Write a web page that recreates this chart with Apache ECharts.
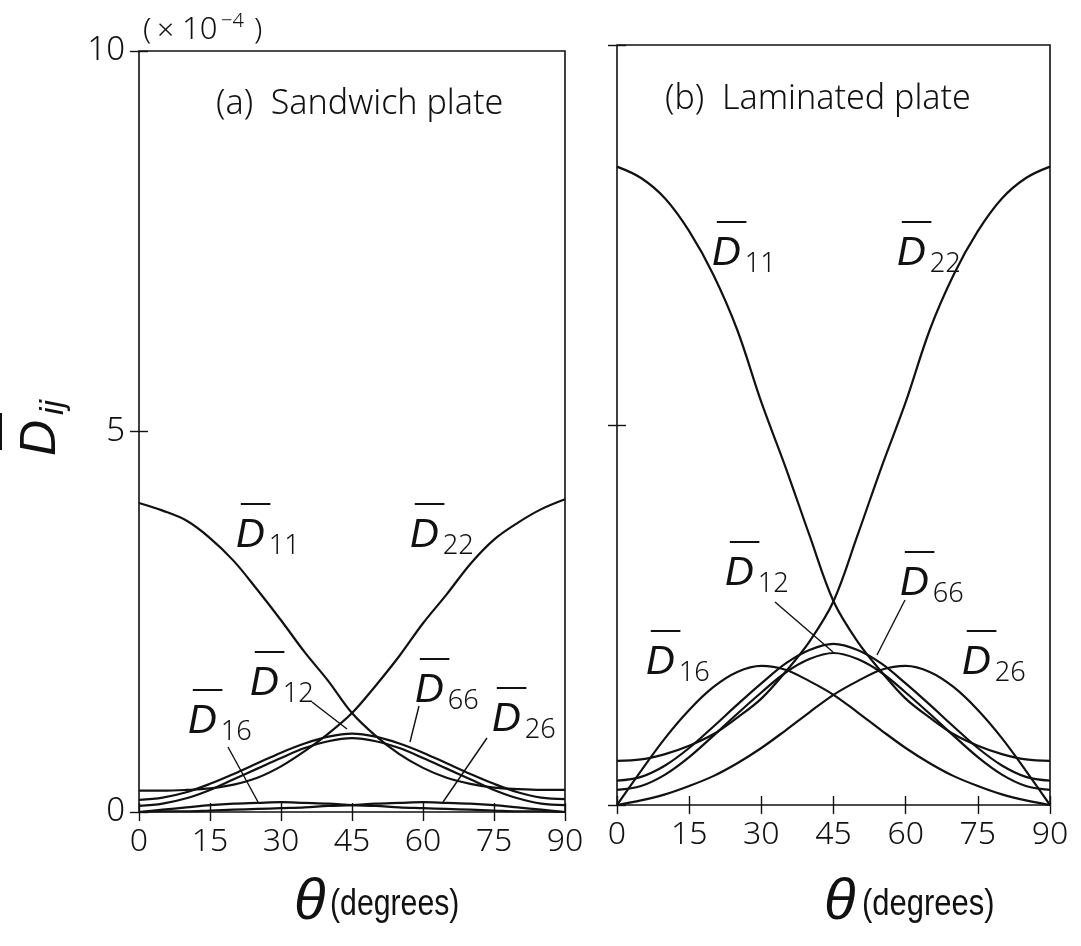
<!DOCTYPE html>
<html>
<head>
<meta charset="utf-8">
<script src="https://cdn.jsdelivr.net/npm/echarts@6/dist/echarts.min.js"></script>
<style>
  html, body { margin: 0; padding: 0; background: #fff; }
  #chart { width: 1081px; height: 946px; }
</style>
</head>
<body>
<div id="chart"></div>
<script>
// Fibre angle (degrees)
const theta = [0, 5, 10, 15, 20, 25, 30, 35, 40, 45, 50, 55, 60, 65, 70, 75, 80, 85, 90];

// Axis ticks
const thetaTicks = [0, 15, 30, 45, 60, 75, 90];
const dTicks = [0, 5, 10];

// (a) Sandwich plate, bending stiffness (x10^-4)
const sandD11 = [4.06, 3.96, 3.83, 3.60, 3.30, 2.92, 2.52, 2.10, 1.72, 1.30, 1.00, 0.76, 0.58, 0.45, 0.37, 0.32, 0.30, 0.29, 0.29];
const sandD22 = [0.28, 0.28, 0.29, 0.31, 0.36, 0.45, 0.60, 0.80, 1.03, 1.30, 1.66, 2.05, 2.48, 2.86, 3.26, 3.58, 3.80, 3.98, 4.11];
const sandD12 = [0.16, 0.19, 0.26, 0.37, 0.50, 0.64, 0.78, 0.90, 0.99, 1.03, 0.99, 0.90, 0.78, 0.64, 0.50, 0.37, 0.26, 0.19, 0.17];
const sandD66 = [0.08, 0.11, 0.18, 0.29, 0.43, 0.57, 0.71, 0.84, 0.93, 0.97, 0.93, 0.84, 0.71, 0.57, 0.43, 0.29, 0.18, 0.11, 0.09];
const sandD16 = [0.00, 0.03, 0.06, 0.09, 0.11, 0.12, 0.13, 0.12, 0.11, 0.09, 0.08, 0.06, 0.05, 0.04, 0.03, 0.02, 0.01, 0.01, 0.00];
const sandD26 = [0.00, 0.01, 0.01, 0.02, 0.03, 0.04, 0.05, 0.06, 0.08, 0.09, 0.11, 0.12, 0.13, 0.12, 0.11, 0.09, 0.06, 0.03, 0.00];

// (b) Laminated plate, bending stiffness (x10^-4)
const lamD11 = [8.40, 8.25, 7.98, 7.55, 6.98, 6.25, 5.30, 4.45, 3.55, 2.68, 2.15, 1.75, 1.40, 1.15, 0.93, 0.78, 0.67, 0.60, 0.58];
const lamD22 = [0.58, 0.60, 0.67, 0.78, 0.93, 1.15, 1.40, 1.75, 2.15, 2.68, 3.55, 4.45, 5.30, 6.25, 6.98, 7.55, 7.98, 8.25, 8.40];
const lamD12 = [0.32, 0.37, 0.52, 0.75, 1.03, 1.32, 1.60, 1.86, 2.04, 2.12, 2.04, 1.86, 1.60, 1.32, 1.03, 0.75, 0.52, 0.37, 0.32];
const lamD66 = [0.20, 0.25, 0.40, 0.63, 0.91, 1.20, 1.48, 1.74, 1.92, 2.00, 1.92, 1.74, 1.48, 1.20, 0.91, 0.63, 0.40, 0.25, 0.20];
const lamD16 = [0.00, 0.45, 0.88, 1.25, 1.55, 1.75, 1.83, 1.78, 1.63, 1.45, 1.22, 0.98, 0.75, 0.55, 0.38, 0.25, 0.14, 0.06, 0.00];
const lamD26 = [0.00, 0.06, 0.14, 0.25, 0.38, 0.55, 0.75, 0.98, 1.22, 1.45, 1.63, 1.78, 1.83, 1.75, 1.55, 1.25, 0.88, 0.45, 0.00];

const INK = '#111';
const NUM_FONT = '"Noto Sans", "DejaVu Sans", sans-serif';
const SYM_FONT = '"Liberation Sans", "DejaVu Sans", sans-serif';

const chart = echarts.init(document.getElementById('chart'), null, { renderer: 'canvas' });

function pairs(ys) { return theta.map((t, i) => [t, ys[i]]); }

function lineSeries(ys, g) {
  return {
    type: 'line', xAxisIndex: g * 2, yAxisIndex: g * 2,
    data: pairs(ys), smooth: 0.35, showSymbol: false, silent: true,
    lineStyle: { color: INK, width: 2.2 }
  };
}

function xAxes(g, withLabels) {
  const base = {
    gridIndex: g, type: 'value', min: 0, max: 90, interval: 15,
    splitLine: { show: false },
    axisLine: { show: false },
    axisTick: { inside: true, length: 9, lineStyle: { color: INK, width: 1.4 } }
  };
  return [
    Object.assign({}, base, {
      position: 'bottom',
      axisLabel: { show: withLabels, fontSize: 32, fontWeight: 300, color: INK, fontFamily: NUM_FONT, margin: 14,
        formatter: v => thetaTicks.includes(v) ? String(v) : '' }
    }),
    Object.assign({}, base, { position: 'top', axisLabel: { show: false } })
  ];
}

function yAxes(g, withLabels) {
  const base = {
    gridIndex: g, type: 'value', min: 0, max: 10, interval: 5,
    splitLine: { show: false },
    axisLine: { show: false },
    axisTick: { inside: true, length: 9, lineStyle: { color: INK, width: 1.4 } }
  };
  return [
    Object.assign({}, base, {
      position: 'left',
      axisLabel: { show: withLabels, fontSize: 33, fontWeight: 300, color: INK, fontFamily: NUM_FONT, margin: 14,
        formatter: v => dTicks.includes(v) ? String(v) : '' }
    }),
    Object.assign({}, base, { position: 'right', axisLabel: { show: false } })
  ];
}

// D-bar with subscript: (x, y) is the top-left of the letter D
function dBar(x, y, sub, size, rotation, italicSub) {
  const s = size || 40;
  const dW = s * 0.74;
  return {
    type: 'group', x: x, y: y, rotation: rotation || 0, silent: true,
    children: [
      { type: 'line', shape: { x1: s * 0.12, y1: -s * 0.3, x2: s * 0.12 + dW, y2: -s * 0.3 },
        style: { stroke: INK, lineWidth: 2 } },
      { type: 'text', x: 0, y: 0,
        style: { text: 'D', font: 'italic ' + s + 'px ' + SYM_FONT, fill: INK, textAlign: 'left', textVerticalAlign: 'top' } },
      { type: 'text', x: dW + s * 0.08, y: s * 0.42,
        style: { text: sub, font: (italicSub ? 'italic ' : '300 ') + (s * 0.68).toFixed(1) + 'px ' + (italicSub ? SYM_FONT : NUM_FONT),
          fill: INK, textAlign: 'left', textVerticalAlign: 'top' } }
    ]
  };
}

function leader(x1, y1, x2, y2) {
  return { type: 'line', silent: true, shape: { x1, y1, x2, y2 }, style: { stroke: INK, lineWidth: 1.4 } };
}

function txt(x, y, text, font, align, scaleX) {
  return { type: 'text', x, y, silent: true, scaleX: scaleX || 1, originX: 0,
    style: { text, font, fill: INK, textAlign: align || 'left', textVerticalAlign: 'middle' } };
}

const option = {
  animation: false,
  backgroundColor: '#fff',
  grid: [
    { left: 139, top: 51, width: 426, height: 761, show: true, borderColor: INK, borderWidth: 1.6, backgroundColor: 'transparent' },
    { left: 617, top: 45, width: 433, height: 760, show: true, borderColor: INK, borderWidth: 1.6, backgroundColor: 'transparent' }
  ],
  xAxis: [].concat(xAxes(0, true), xAxes(1, true)),
  yAxis: [].concat(yAxes(0, true), yAxes(1, false)),
  series: [
    lineSeries(sandD11, 0), lineSeries(sandD22, 0), lineSeries(sandD12, 0),
    lineSeries(sandD66, 0), lineSeries(sandD16, 0), lineSeries(sandD26, 0),
    lineSeries(lamD11, 1), lineSeries(lamD22, 1), lineSeries(lamD12, 1),
    lineSeries(lamD66, 1), lineSeries(lamD16, 1), lineSeries(lamD26, 1)
  ],
  graphic: [
    // scale factor above the left axis
    txt(143, 30, '(', '300 30px ' + NUM_FONT),
    txt(157, 31, '×', '300 30px ' + NUM_FONT),
    txt(182, 30, '10', '300 31px ' + NUM_FONT),
    txt(221, 21, '−4', '300 20px ' + NUM_FONT),
    txt(254, 30, ')', '300 30px ' + NUM_FONT),

    // panel titles
    txt(216, 104, '(a)  Sandwich plate', '300 34px ' + NUM_FONT),
    txt(665, 99, '(b)  Laminated plate', '300 34px ' + NUM_FONT),

    // vertical axis title
    dBar(16, 456, 'ij', 50, Math.PI / 2, true),

    // horizontal axis titles
    txt(294, 903, 'θ', 'italic 58px ' + SYM_FONT),
    txt(330, 905, '(degrees)', '36px ' + SYM_FONT, 'left', 0.84),
    txt(824, 903, 'θ', 'italic 58px ' + SYM_FONT),
    txt(862, 905, '(degrees)', '36px ' + SYM_FONT, 'left', 0.86),

    // (a) curve labels
    dBar(236, 516, '11'), dBar(410, 516, '22'),
    dBar(250, 664, '12'), dBar(415, 671, '66'),
    dBar(188, 702, '16'), dBar(492, 700, '26'),
    leader(312, 702, 347, 729),
    leader(419, 706, 410, 742),
    leader(228, 747, 258, 802),
    leader(487, 738, 443, 802),

    // (b) curve labels
    dBar(712, 234, '11'), dBar(897, 234, '22'),
    dBar(725, 554, '12'), dBar(900, 564, '66'),
    dBar(646, 643, '16'), dBar(962, 643, '26'),
    leader(775, 602, 833, 652),
    leader(905, 600, 877, 655)
  ]
};

chart.setOption(option);
</script>
</body>
</html>
